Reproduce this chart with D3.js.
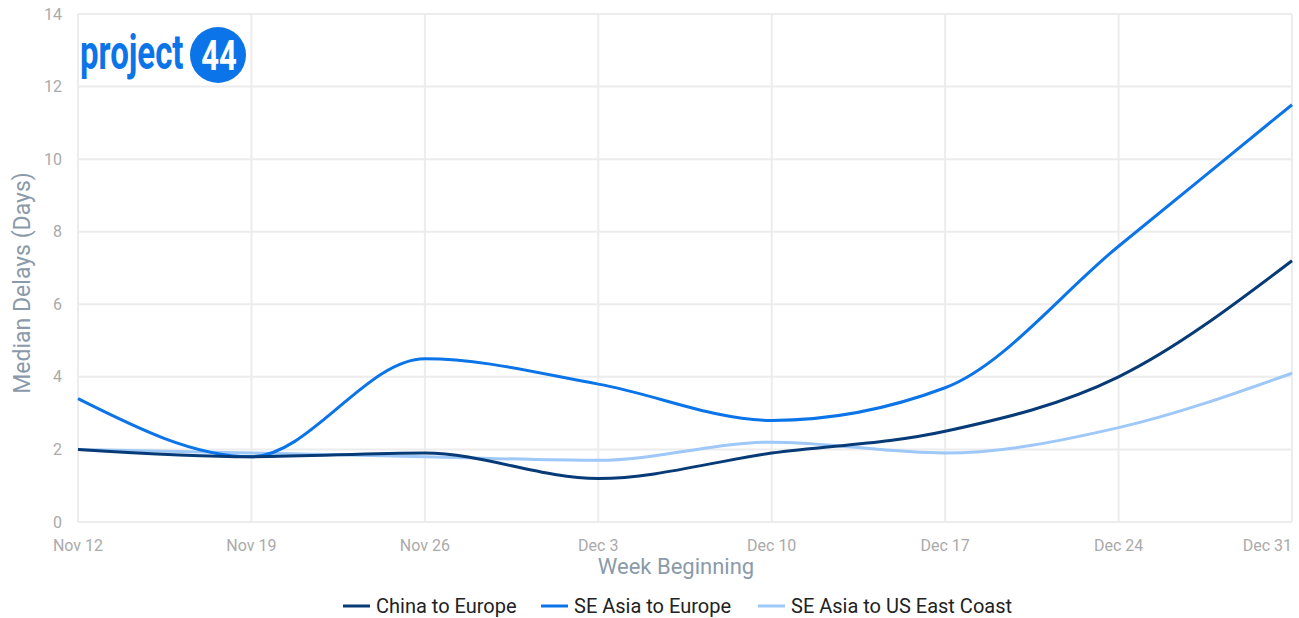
<!DOCTYPE html>
<html lang="en">
<head>
<meta charset="utf-8">
<title>Median Delays</title>
<style>
    body { margin: 0; background: #fff; }
    text { font-family: Roboto, "Noto Sans", sans-serif; }
</style>
</head>
<body>
<script src="https://cdn.jsdelivr.net/npm/d3@7"></script>
<script>
    var weeks = ["Nov 12", "Nov 19", "Nov 26", "Dec 3", "Dec 10", "Dec 17", "Dec 24", "Dec 31"];
    var chinaEurope = [2.0, 1.8, 1.9, 1.2, 1.9, 2.5, 4.0, 7.2];
    var seAsiaEurope = [3.4, 1.8, 4.5, 3.8, 2.8, 3.7, 7.6, 11.5];
    var seAsiaUsEast = [2.0, 1.9, 1.8, 1.7, 2.2, 1.9, 2.6, 4.1];
    var yTicks = [0, 2, 4, 6, 8, 10, 12, 14];

    var series = [
        {name: "China to Europe", values: chinaEurope, color: "#073b77"},
        {name: "SE Asia to Europe", values: seAsiaEurope, color: "#0a74e8"},
        {name: "SE Asia to US East Coast", values: seAsiaUsEast, color: "#9dc8f7"}
    ];

    var width = 1299, height = 618;
    var margin = {top: 14, right: 7, bottom: 96, left: 78};

    var svg = d3.select("body").append("svg")
        .attr("width", width)
        .attr("height", height);

    var x = d3.scalePoint()
        .domain(weeks)
        .range([margin.left, width - margin.right]);

    var y = d3.scaleLinear()
        .domain([0, 14])
        .range([height - margin.bottom, margin.top]);

    // grid
    svg.append("g").selectAll("line.h")
        .data(yTicks)
        .enter().append("line")
        .attr("x1", margin.left).attr("x2", width - margin.right)
        .attr("y1", function (d) { return y(d); })
        .attr("y2", function (d) { return y(d); })
        .attr("stroke", "#ececec").attr("stroke-width", 2);

    svg.append("g").selectAll("line.v")
        .data(weeks)
        .enter().append("line")
        .attr("x1", function (d) { return x(d); })
        .attr("x2", function (d) { return x(d); })
        .attr("y1", y(14)).attr("y2", y(0))
        .attr("stroke", "#ececec").attr("stroke-width", 2);

    // y tick labels
    svg.append("g").selectAll("text")
        .data(yTicks)
        .enter().append("text")
        .attr("x", 62)
        .attr("y", function (d) { return y(d); })
        .attr("dy", "0.35em")
        .attr("text-anchor", "end")
        .attr("fill", "#aaaaaa")
        .style("font-size", "16px")
        .text(function (d) { return d; });

    // x tick labels
    svg.append("g").selectAll("text")
        .data(weeks)
        .enter().append("text")
        .attr("x", function (d) { return x(d); })
        .attr("y", 551)
        .attr("text-anchor", function (d, i) { return i === weeks.length - 1 ? "end" : "middle"; })
        .attr("fill", "#aaaaaa")
        .style("font-size", "16px")
        .text(function (d) { return d; });

    // axis titles
    svg.append("text")
        .attr("transform", "translate(30," + ((y(0) + y(14)) / 2 + 15) + ") rotate(-90)")
        .attr("text-anchor", "middle")
        .attr("fill", "#8a9aaa")
        .style("font-size", "23px")
        .text("Median Delays (Days)");

    svg.append("text")
        .attr("x", 676)
        .attr("y", 574)
        .attr("text-anchor", "middle")
        .attr("fill", "#8a9aaa")
        .style("font-size", "22px")
        .text("Week Beginning");

    // lines
    var line = d3.line()
        .x(function (d, i) { return x(weeks[i]); })
        .y(function (d) { return y(d); })
        .curve(d3.curveMonotoneX);

    svg.append("g").selectAll("path")
        .data(series.slice().reverse())
        .enter().append("path")
        .attr("d", function (d) { return line(d.values); })
        .attr("fill", "none")
        .attr("stroke", function (d) { return d.color; })
        .attr("stroke-width", 3);

    // logo (condensed look by stretching vertically)
    svg.append("text")
        .attr("transform", "translate(80,69) scale(1,1.45)")
        .attr("fill", "#0a74e8")
        .style("font-size", "33px")
        .style("font-weight", "bold")
        .text("project");
    svg.append("circle")
        .attr("cx", 218).attr("cy", 55).attr("r", 28)
        .attr("fill", "#0a74e8");
    svg.append("text")
        .attr("transform", "translate(219,70) scale(1,1.4)")
        .attr("text-anchor", "middle")
        .attr("fill", "#fff")
        .style("font-size", "31px")
        .style("font-weight", "bold")
        .text("44");

    // legend
    var legendX = [343, 541, 758];
    var legend = svg.append("g").selectAll("g")
        .data(series)
        .enter().append("g")
        .attr("transform", function (d, i) { return "translate(" + legendX[i] + ",606)"; });
    legend.append("line")
        .attr("x1", 0).attr("x2", 27)
        .attr("stroke", function (d) { return d.color; })
        .attr("stroke-width", 3);
    legend.append("text")
        .attr("x", 33)
        .attr("dy", "0.35em")
        .attr("fill", "#222")
        .style("font-size", "20px")
        .text(function (d) { return d.name; });
</script>
</body>
</html>
